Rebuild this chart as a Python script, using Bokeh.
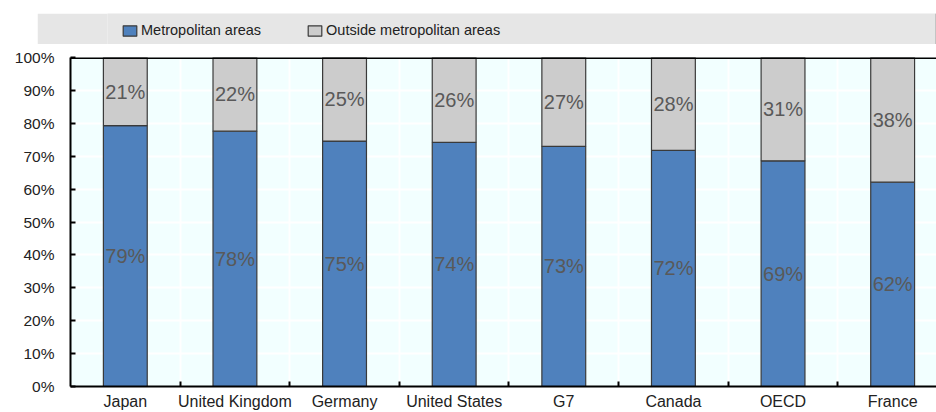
from bokeh.plotting import figure
from bokeh.layouts import column
from bokeh.core.properties import value
from bokeh.models import (ColumnDataSource, FixedTicker, Legend, LegendItem,
                          LabelSet, Range1d, Span)
from bokeh.embed import file_html
from bokeh.resources import INLINE

categories = ["Japan", "United Kingdom", "Germany", "United States", "G7", "Canada", "OECD", "France"]
metro = [79.3, 77.6, 74.6, 74.2, 73.0, 71.8, 68.6, 62.1]
outside = [20.7, 22.4, 25.4, 25.8, 27.0, 28.2, 31.4, 37.9]
metro_labels = ["79%", "78%", "75%", "74%", "73%", "72%", "69%", "62%"]
outside_labels = ["21%", "22%", "25%", "26%", "27%", "28%", "31%", "38%"]
y_ticks = [0, 10, 20, 30, 40, 50, 60, 70, 80, 90, 100]
y_tick_labels = {t: f"{t}%" for t in y_ticks}

FONT = "Liberation Sans"
BLUE = "#4f81bd"
GREY = "#cccccc"
EDGE = "#3a3a3a"
TXT = "#222222"

xs = list(range(len(categories)))
src = ColumnDataSource(dict(
    x=xs,
    metro=metro,
    outside=outside,
    top=[m + o for m, o in zip(metro, outside)],
    metro_mid=[m / 2 for m in metro],
    outside_mid=[m + o / 2 for m, o in zip(metro, outside)],
    metro_lab=metro_labels,
    outside_lab=outside_labels,
))

# ---------- legend strip ----------
leg = figure(width=899, height=31, output_backend="svg", toolbar_location=None,
             x_range=Range1d(0, 1), y_range=Range1d(0, 1),
             x_axis_location=None, y_axis_location=None,
             min_border_left=33, min_border_right=0, min_border_top=0, min_border_bottom=0)
leg.margin = (13, 0, 0, 37)
leg.background_fill_color = "#e6e6e6"
leg.border_fill_color = "#e6e6e6"
leg.outline_line_color = None
leg.xgrid.visible = False
leg.ygrid.visible = False
dummy = ColumnDataSource(dict(x=[10], top=[1]))
d1 = leg.vbar(x="x", top="top", width=0.4, source=dummy, fill_color=BLUE, line_color=EDGE, line_width=1.2)
d2 = leg.vbar(x="x", top="top", width=0.4, source=dummy, fill_color=GREY, line_color=EDGE, line_width=1.2)
legend = Legend(items=[LegendItem(label="Metropolitan areas", renderers=[d1]),
                       LegendItem(label="Outside metropolitan areas", renderers=[d2])],
                orientation="horizontal", location=(14, 6),
                background_fill_alpha=0, border_line_color=None,
                padding=0, margin=0, spacing=45, glyph_width=17, glyph_height=13,
                label_standoff=3, label_text_font=FONT, label_text_font_size="14.5px",
                label_text_color=TXT)
leg.add_layout(legend, "center")

# ---------- main chart ----------
p = figure(width=936, height=368, output_backend="svg", toolbar_location=None,
           x_range=Range1d(-0.5, 7.4), y_range=Range1d(0, 100),
           min_border_left=70, min_border_right=0, min_border_top=13, min_border_bottom=25)
p.background_fill_color = "#f2ffff"
p.border_fill_color = "white"
p.outline_line_color = None

r1 = p.vbar(x="x", width=0.4, bottom=0, top="metro", source=src,
            fill_color=BLUE, line_color=EDGE, line_width=1.2)
r2 = p.vbar(x="x", width=0.4, bottom="metro", top="top", source=src,
            fill_color=GREY, line_color=EDGE, line_width=1.2)

lab_style = dict(text_font=value(FONT), text_font_size="20px", text_color="#595959",
                 text_align="center", text_baseline="middle")
p.add_layout(LabelSet(x="x", y="metro_mid", text="metro_lab", source=src, **lab_style))
p.add_layout(LabelSet(x="x", y="outside_mid", text="outside_lab", source=src, **lab_style))

xa = p.xaxis[0]
xa.ticker = FixedTicker(ticks=xs, minor_ticks=[i + 0.5 for i in xs])
xa.major_label_overrides = {i: c for i, c in enumerate(categories)}
xa.major_tick_in = 0
xa.major_tick_out = 0
xa.minor_tick_in = 5
xa.minor_tick_out = 0
xa.minor_tick_line_color = "black"
xa.minor_tick_line_width = 2
xa.axis_line_color = "black"
xa.axis_line_width = 2
xa.major_label_text_font = FONT
xa.major_label_text_font_size = "16px"
xa.major_label_text_color = TXT
xa.major_label_standoff = 6

ya = p.yaxis[0]
ya.ticker = FixedTicker(ticks=y_ticks)
ya.major_label_overrides = y_tick_labels
ya.major_tick_in = 5
ya.major_tick_out = 0
ya.major_tick_line_color = "black"
ya.major_tick_line_width = 2
ya.minor_tick_line_color = None
ya.axis_line_color = "black"
ya.axis_line_width = 2
ya.major_label_text_font = FONT
ya.major_label_text_font_size = "15.5px"
ya.major_label_text_color = TXT
ya.major_label_standoff = 16

p.ygrid[0].ticker = FixedTicker(ticks=y_ticks)
p.ygrid[0].grid_line_color = "white"
p.ygrid[0].grid_line_width = 2
p.xgrid[0].ticker = FixedTicker(ticks=[i + 0.5 for i in xs])
p.xgrid[0].grid_line_color = "white"
p.xgrid[0].grid_line_width = 2

# top frame line
p.add_layout(Span(location=100, dimension="width", line_color="black", line_width=3))

layout = column(leg, p, spacing=0)
open("out.html", "w").write(file_html(layout, INLINE))
